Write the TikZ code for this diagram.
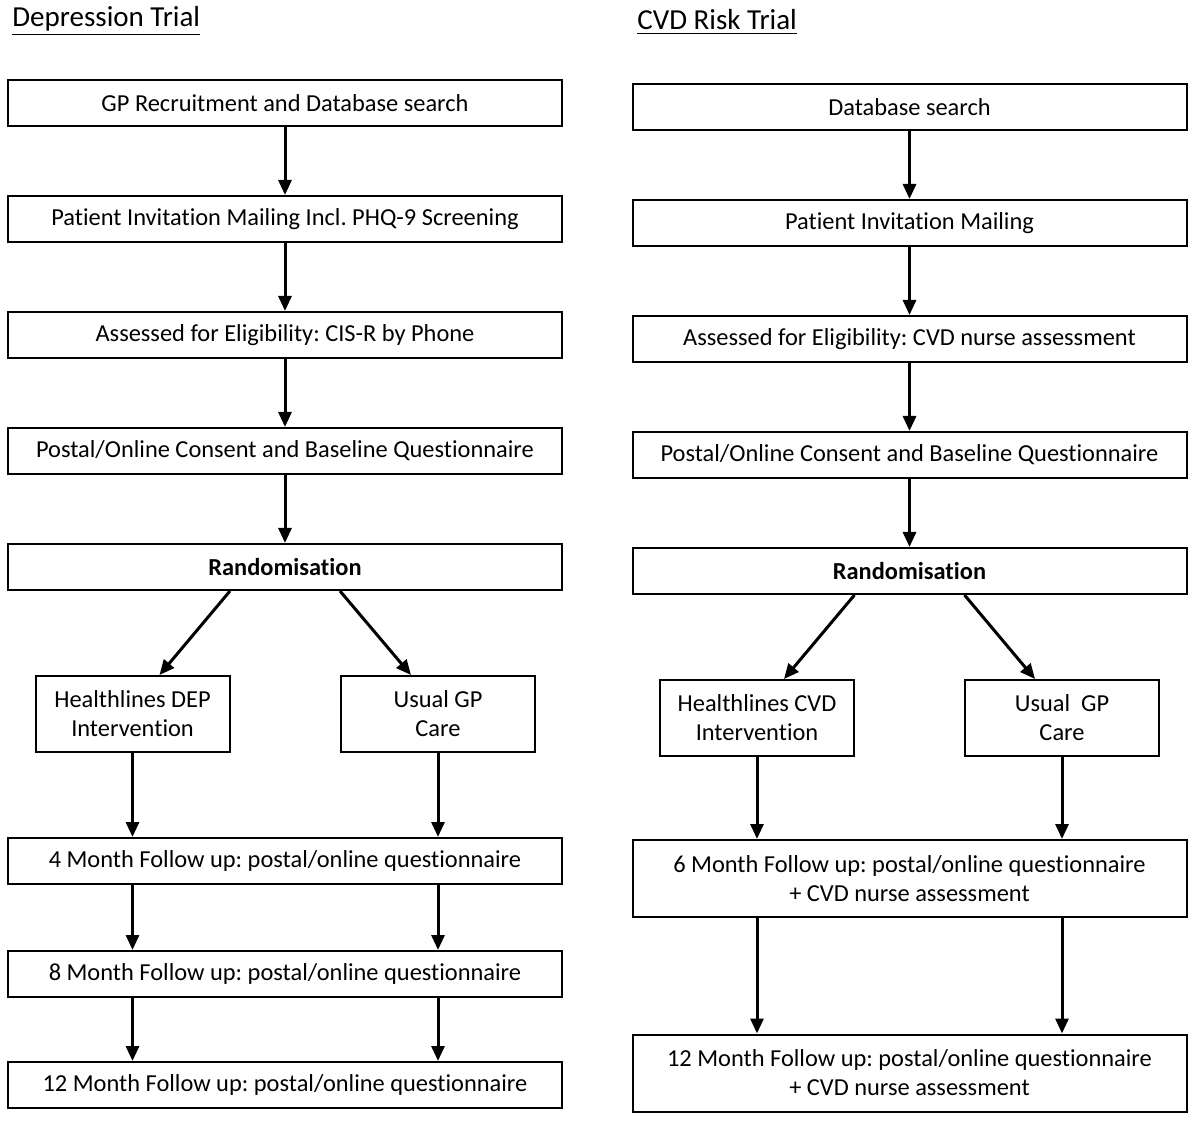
\documentclass[tikz,border=0pt]{standalone}
\usepackage{fontspec}
\setmainfont{Carlito}[Ligatures={NoCommon}]
\frenchspacing
\usetikzlibrary{arrows.meta}
\begin{document}
\begin{tikzpicture}[x=0.5pt,y=-0.5pt,font=\fontsize{12.2}{14.5}\selectfont,
  box/.style={draw=black,line width=1pt,minimum width=277pt,minimum height=23pt,inner sep=0pt,align=center},
  boxT/.style={box,minimum height=38.5pt},
  arm/.style={box,minimum width=97pt,minimum height=38pt},
  flow/.style={line width=1.5pt,-{Triangle[length=7.5pt,width=6.5pt]}},
  title/.style={anchor=base west,inner sep=0pt,font=\fontsize{14.5}{17}\selectfont}]
\useasboundingbox (0,0) rectangle (1200,1122);
\def\lx{285};
\def\rx{909.5};
\def\dxd{27.5pt};
\def\dxe{13.5pt};

% Depression trial
\node[title] (T1) at (12,27) {\underline{Depression Trial}};
\node[box] (R1) at (\lx,103.5) {GP Recruitment and Database search};
\node[box] (M1) at (\lx,219) {Patient Invitation Mailing Incl. PHQ-9 Screening};
\node[box] (E1) at (\lx,335) {Assessed for Eligibility: CIS-R by Phone};
\node[box] (C1) at (\lx,451) {Postal/Online Consent and Baseline Questionnaire};
\node[box,font=\fontsize{12.2}{14.5}\selectfont\bfseries] (Rnd1) at (\lx,567) {Randomisation};
\node[arm] (I1) at (132.5,714) {Healthlines DEP\\Intervention};
\node[arm] (U1) at (438,714) {Usual GP\\Care};
\node[box] (F4) at (\lx,861) {4 Month Follow up: postal/online questionnaire};
\node[box] (F8) at (\lx,974) {8 Month Follow up: postal/online questionnaire};
\node[box] (F12) at (\lx,1085) {12 Month Follow up: postal/online questionnaire};

\draw[flow] (R1) -- (M1);
\draw[flow] (M1) -- (E1);
\draw[flow] (E1) -- (C1);
\draw[flow] (C1) -- (Rnd1);
\draw[flow] ([xshift=-\dxd]Rnd1.south) -- ([xshift=\dxe]I1.north);
\draw[flow] ([xshift=\dxd]Rnd1.south) -- ([xshift=-\dxe]U1.north);
\draw[flow] (I1.south) -- (I1.south |- F4.north);
\draw[flow] (U1.south) -- (U1.south |- F4.north);
\draw[flow] (I1.south |- F4.south) -- (I1.south |- F8.north);
\draw[flow] (U1.south |- F4.south) -- (U1.south |- F8.north);
\draw[flow] (I1.south |- F8.south) -- (I1.south |- F12.north);
\draw[flow] (U1.south |- F8.south) -- (U1.south |- F12.north);

% CVD risk trial
\node[title] (T2) at (637,30) {\underline{CVD Risk Trial}};
\node[box] (Db) at (\rx,107) {Database search};
\node[box] (M2) at (\rx,223) {Patient Invitation Mailing};
\node[box] (E2) at (\rx,339) {Assessed for Eligibility: CVD nurse assessment};
\node[box] (C2) at (\rx,455) {Postal/Online Consent and Baseline Questionnaire};
\node[box,font=\fontsize{12.2}{14.5}\selectfont\bfseries] (Rnd2) at (\rx,571) {Randomisation};
\node[arm] (I2) at (757,718) {Healthlines CVD\\Intervention};
\node[arm] (U2) at (1062,718) {Usual\ \ GP\\Care};
\node[boxT] (F6) at (\rx,878.5) {6 Month Follow up: postal/online questionnaire\\+ CVD nurse assessment};
\node[boxT] (F12b) at (\rx,1073) {12 Month Follow up: postal/online questionnaire\\+ CVD nurse assessment};

\draw[flow] (Db) -- (M2);
\draw[flow] (M2) -- (E2);
\draw[flow] (E2) -- (C2);
\draw[flow] (C2) -- (Rnd2);
\draw[flow] ([xshift=-\dxd]Rnd2.south) -- ([xshift=\dxe]I2.north);
\draw[flow] ([xshift=\dxd]Rnd2.south) -- ([xshift=-\dxe]U2.north);
\draw[flow] (I2.south) -- (I2.south |- F6.north);
\draw[flow] (U2.south) -- (U2.south |- F6.north);
\draw[flow] (I2.south |- F6.south) -- (I2.south |- F12b.north);
\draw[flow] (U2.south |- F6.south) -- (U2.south |- F12b.north);
\end{tikzpicture}
\end{document}
